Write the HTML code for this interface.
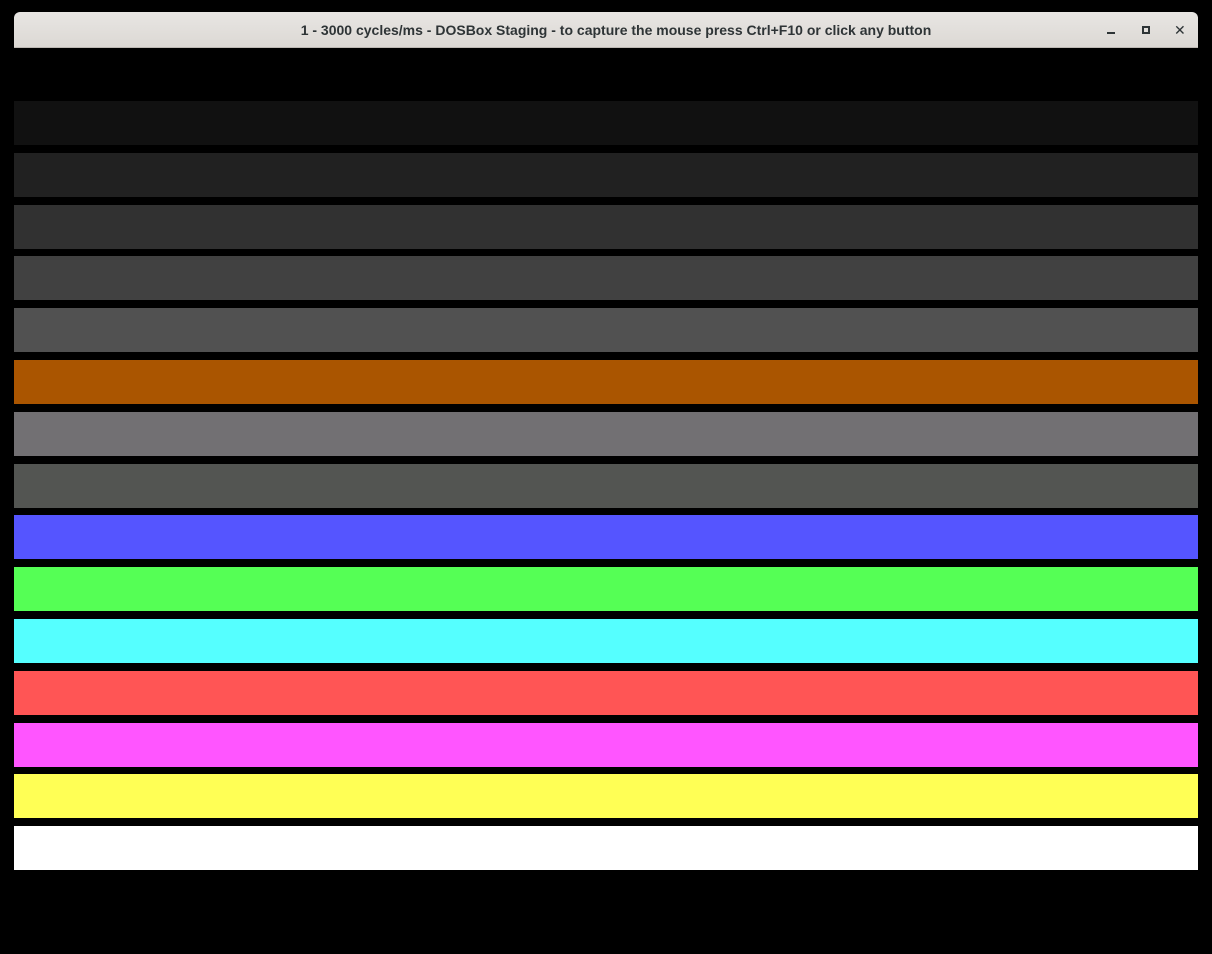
<!DOCTYPE html>
<html><head><meta charset="utf-8"><style>
html,body{margin:0;padding:0;background:#000;width:1212px;height:954px;overflow:hidden;position:relative;font-family:"Liberation Sans",sans-serif}
.tb{position:absolute;left:14px;top:12px;width:1184px;height:36px;background:linear-gradient(#e8e6e3,#dcd8d4);border-radius:6px 6px 0 0;border-bottom:1px solid #bdb8b3;box-sizing:border-box}
.tt{position:absolute;left:20px;right:0;top:0;line-height:36px;text-align:center;font-size:14px;font-weight:bold;color:#2e3436}
.b{position:absolute;left:14px;width:1184px;height:44px}
.ic{position:absolute;top:0;line-height:36px;font-size:13px;color:#2e3436}
</style></head><body>
<div class="tb"><div class="tt">1 - 3000 cycles/ms - DOSBox Staging - to capture the mouse press Ctrl+F10 or click any button</div>
<div style="position:absolute;left:1093px;top:20px;width:8px;height:2px;background:#2e3436"></div>
<div style="position:absolute;left:1128px;top:14px;width:4px;height:4px;border:2px solid #2e3436"></div>
<div class="ic" style="left:1160px;font-size:14px">✕</div>
</div>
<div class="b" style="top:101px;background:#111"></div>
<div class="b" style="top:153px;background:#212121"></div>
<div class="b" style="top:205px;background:#313131"></div>
<div class="b" style="top:256px;background:#414141"></div>
<div class="b" style="top:308px;background:#515151"></div>
<div class="b" style="top:360px;background:#aa5500"></div>
<div class="b" style="top:412px;background:#727073"></div>
<div class="b" style="top:464px;background:#535552"></div>
<div class="b" style="top:515px;background:#5555ff"></div>
<div class="b" style="top:567px;background:#55ff55"></div>
<div class="b" style="top:619px;background:#55ffff"></div>
<div class="b" style="top:671px;background:#ff5555"></div>
<div class="b" style="top:723px;background:#ff55ff"></div>
<div class="b" style="top:774px;background:#ffff55"></div>
<div class="b" style="top:826px;background:#fff"></div>
</body></html>
